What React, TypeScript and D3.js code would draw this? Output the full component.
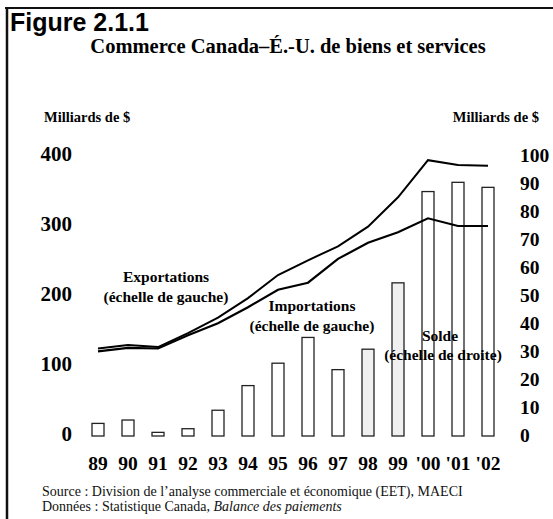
import React from 'react';
import * as d3 from 'd3';

const years = ['89', '90', '91', '92', '93', '94', '95', '96', '97', '98', '99', "'00", "'01", "'02"];
// Milliards de $ (échelle de gauche)
const exportations = [125, 130, 127, 147, 169, 197, 230, 251, 271, 299, 341, 394, 387, 386];
const importations = [121, 126, 125, 144, 161, 184, 209, 219, 253, 276, 291, 311, 300, 300];
// Milliards de $ (échelle de droite)
const solde = [4.5, 5.7, 1.3, 2.6, 9.2, 18, 26, 35.2, 23.7, 31, 54.7, 87.3, 90.6, 88.8];

const leftTicks = [0, 100, 200, 300, 400];
const rightTicks = [0, 10, 20, 30, 40, 50, 60, 70, 80, 90, 100];

const serif = '"Liberation Serif", "Times New Roman", serif';
const sans = '"Liberation Sans", Arial, sans-serif';

const App = () => {
    const width = 553;
    const height = 519;

    const x = d3.scalePoint<string>().domain(years).range([98, 488]);
    const yLeft = d3.scaleLinear().domain([0, 400]).range([436, 156]);
    const yRight = d3.scaleLinear().domain([0, 100]).range([436, 156]);

    const barW = 12;

    const line = (vals: number[]) =>
        d3.line<number>()
            .x((_, i) => x(years[i]) as number)
            .y(d => yLeft(d))(vals) as string;

    return (
        <svg width={width} height={height} style={{ position: 'absolute', left: 0, top: 0, background: '#fff' }}>
            <rect width={width} height={height} fill="#fff" />
            {/* frame */}
            <line x1={5} x2={553} y1={8} y2={8} stroke="#111" strokeWidth={2} />
            <line x1={7} x2={7} y1={7} y2={519} stroke="#111" strokeWidth={2.5} />

            <text x={10} y={31} fontFamily={sans} fontWeight="bold" fontSize={25} fill="#000">Figure 2.1.1</text>
            <text x={288} y={53} textAnchor="middle" fontFamily={serif} fontWeight="bold" fontSize={20.5} fill="#000">
                Commerce Canada–É.-U. de biens et services
            </text>

            <text x={44} y={122} fontFamily={serif} fontWeight="bold" fontSize={14.5} fill="#000">Milliards de $</text>
            <text x={539} y={122} textAnchor="end" fontFamily={serif} fontWeight="bold" fontSize={14.5} fill="#000">Milliards de $</text>

            {leftTicks.map(t => (
                <text key={'l' + t} x={72} y={yLeft(t) + 5} textAnchor="end" fontFamily={serif} fontWeight="bold" fontSize={21} fill="#000">{t}</text>
            ))}
            {rightTicks.map(t => (
                <text key={'r' + t} x={520} y={yRight(t) + 6} fontFamily={serif} fontWeight="bold" fontSize={19.5} fill="#000">{t}</text>
            ))}

            {/* bars: solde */}
            {solde.map((v, i) => (
                <rect
                    key={'b' + i}
                    x={(x(years[i]) as number) - barW / 2}
                    y={yRight(v)}
                    width={barW}
                    height={yRight(0) - yRight(v)}
                    fill={i === 9 || i === 10 ? '#f0f0f0' : '#fff'}
                    stroke="#222"
                    strokeWidth={1.3}
                />
            ))}

            <path d={line(exportations)} fill="none" stroke="#000" strokeWidth={2} />
            <path d={line(importations)} fill="none" stroke="#000" strokeWidth={2.2} />

            <g fontFamily={serif} fontWeight="bold" fontSize={15.5} fill="#000" textAnchor="middle">
                <text x={166} y={282}>Exportations</text>
                <text x={166} y={302}>(échelle de gauche)</text>
                <text x={312} y={311}>Importations</text>
                <text x={312} y={331}>(échelle de gauche)</text>
                <text x={440} y={341}>Solde</text>
                <text x={443} y={360}>(échelle de droite)</text>
            </g>

            {years.map(yr => (
                <text key={'x' + yr} x={x(yr) as number} y={470} textAnchor="middle" fontFamily={serif} fontWeight="bold" fontSize={19.5} fill="#000">{yr}</text>
            ))}

            <text x={42} y={496} fontFamily={serif} fontSize={14} fill="#111">
                Source : Division de l’analyse commerciale et économique (EET), MAECI
            </text>
            <text x={42} y={511} fontFamily={serif} fontSize={14} fill="#111">
                Données : Statistique Canada, <tspan fontStyle="italic">Balance des paiements</tspan>
            </text>
        </svg>
    );
};

export default App;
